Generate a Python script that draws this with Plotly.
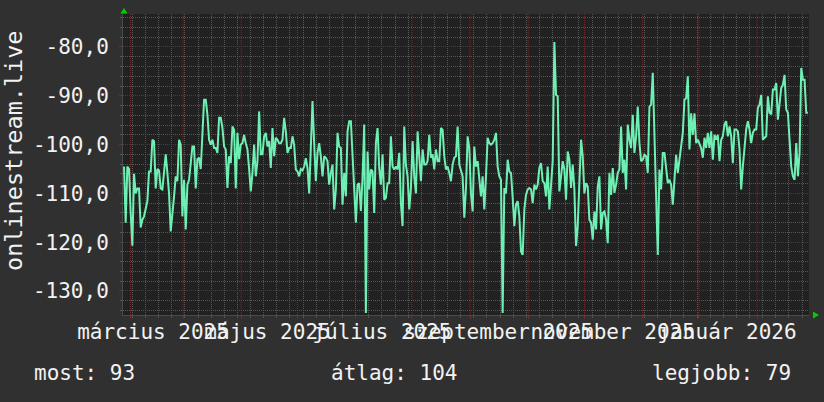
import pandas as pd
import plotly.graph_objects as go

# ---- data ----
seg1 = [-104.5, -116, -104.5, -105, -114, -120.7, -106, -110, -109, -109, -117, -115.4, -114.7, -113.3,
        -111.6, -105.5, -105.5, -99, -99.3, -109, -105, -105.3, -109, -109.2, -105, -102, -105.8, -110,
        -117.8, -114.7, -110.6, -106.5, -107.5, -99, -100, -114.7, -107.2, -117.4, -108.2, -107.2, -104,
        -100.4, -100.4, -109, -103, -102.7, -105, -98.3, -90.8, -90.8, -93.9, -99, -100, -99, -100.7,
        -100.7, -101.7, -94.5, -94.5, -96.6, -100.4, -101, -108.9, -102.4, -103.8, -96.3, -97, -109,
        -97.6, -103]
seg2 = [-100, -99.7, -98, -99.7, -101, -105, -109.6, -105.8, -100, -106.5, -103.4, -93.2, -102, -102,
        -98.3, -97.6, -100.4, -99.3, -104.8, -96.6, -102.4, -98.6, -99, -99.7, -99.7, -99, -94.5, -97.3,
        -101.7, -100.7, -100.7, -98.3, -100, -105.1, -105.5, -106.5, -105, -105.3, -104.5, -102.8,
        -104.8, -110, -100, -91.1, -99.7, -107.5, -101.7, -99.7, -102.4, -106.5, -102.4, -102.7, -103.4,
        -108.2, -105.8, -104.1, -113.3, -109.2, -97.6, -100.4, -100.7, -112.3, -105.8, -110.6, -97.3,
        -95.2, -95.2, -101.4, -108.6, -116]
seg3 = [-108.2, -107.9, -113.6, -106.8, -95.9, -134.5, -101.4, -109.2, -105.1, -105.5, -114, -99.7,
        -96.6, -104.8, -108.2, -102, -111.3, -110.9, -107.9, -107.9, -98.3, -104.5, -105.1, -104.5,
        -105.1, -101.7, -112, -116.7, -96.3, -104.1, -106.5, -113.3, -108.9, -99.3, -106.5, -110, -97.3,
        -103.1, -107.5, -101, -104.1, -104.1, -103.4, -98, -102.7, -102, -105.1, -101, -103.4, -103.4,
        -96.6, -97, -102.4, -105.1, -104.5, -105.8, -107.5, -104.1, -102.7, -102.4, -96.3, -104.1,
        -105.1, -106.5, -115, -108.9, -98.3, -100.7, -110]
seg4 = [-113.7, -100.4, -104.5, -103.4, -106.5, -110.6, -106.5, -113.3, -106.5, -98.6, -99.7, -100,
        -99.7, -99, -97.6, -104.5, -106.5, -107.2, -134.5, -108.9, -110, -103.1, -105.5, -105.8, -110.9,
        -116.7, -112.3, -111.6, -114.7, -121.9, -122.6, -113.3, -110.3, -109.2, -108.9, -109.2, -112,
        -108.2, -109.2, -108.2, -104.8, -103.8, -107.5, -107.9, -110.6, -104.5, -113.3, -107.5, -103.4,
        -79, -89.8, -90.1, -109.6, -106.5, -103.4, -105.1, -111.3, -101.4, -103.1, -108.9, -104.1,
        -109.2, -120.8, -116.7, -105.8, -99, -102.4, -110, -107.9]
seg5 = [-108.6, -115.4, -116, -119.5, -113.7, -117.4, -108.6, -106.5, -117.4, -114, -113.7, -115.4,
        -120.2, -105.8, -110.3, -104.8, -109.9, -108.2, -105.8, -105.1, -96.3, -105.8, -103.1, -109.2,
        -95.9, -99, -100.7, -93.9, -101.7, -98.3, -92.2, -99.7, -103.4, -103.1, -102.1, -102.4, -105.8,
        -92.2, -91.8, -85.3, -100.4, -110.6, -122.6, -105.1, -109.2, -101.7, -101.7, -104.5, -107.9,
        -107.2, -108.2, -112.3, -105.8, -102.1, -105.8, -103.1, -100.4, -97.6, -90.8, -90.5, -86, -101,
        -93.6, -98, -93.6, -99.7, -99, -100, -100.7, -102.7]
seg6 = [-98.6, -100.7, -97.6, -100.7, -97.3, -103.1, -98, -99, -98, -103.4, -99, -98.3, -95.9, -95.2,
        -98.3, -96.3, -98.3, -103.8, -96.9, -96.9, -97.3, -101, -109.2, -104.5, -100.4, -96.9, -95.2,
        -96.9, -99.7, -97.6, -96.9, -96.9, -92.5, -91.8, -89.8, -99, -98.6, -98.3, -90.1, -93.5, -93.8,
        -88.7, -88.7, -87.4, -94.9, -90.8, -88.4, -87.7, -85.7, -92.8, -93.5, -99, -104.5, -106.5,
        -107.2, -99.7, -106.5, -101.7, -84.3, -86.7, -86.7, -93.5, -93.5]
values = seg1 + seg2 + seg3 + seg4 + seg5 + seg6

start_time = "2025-01-28 13:00"
end_time = "2026-01-28 02:00"
x_range = ["2025-01-28 00:00", "2026-01-28 16:00"]

month_starts = pd.date_range("2025-02-01", "2026-01-01", freq="MS")
month_label_map = {
    "2025-03": "március 2025",
    "2025-05": "május 2025",
    "2025-07": "július 2025",
    "2025-09": "szeptember 2025",
    "2025-11": "november 2025",
    "2026-01": "január 2026",
}
y_tick_vals = [-130, -120, -110, -100, -90, -80]
y_tick_text = ["-130,0", "-120,0", "-110,0", "-100,0", "-90,0", "-80,0"]
y_title = "onlinestream.live"
stat_names = ["most", "átlag", "legjobb"]
stat_values = [93, 104, 79]
y_range = [-134.92, -73.24]

dates = pd.date_range(start_time, end_time, periods=len(values))
x_tick_text = [month_label_map.get(d.strftime("%Y-%m"), "") for d in month_starts]

FONT = "DejaVu Sans Mono"
TXT = "#f2f2f2"
RED = "#6a3131"
GREY = "#565656"
DOT = "1px,1px"

fig = go.Figure()
fig.add_trace(go.Scatter(x=dates, y=values, mode="lines",
                         line=dict(color="#6ef0b4", width=2), hoverinfo="skip"))

W, H = 824, 402
L, R, T, B = 123, 15, 14, 87
pw, ph = W - L - R, H - T - B


def px(x):
    return (x - L) / pw


def py(y):
    return (H - B - y) / ph


fig.update_layout(
    width=W, height=H,
    margin=dict(l=L, r=R, t=T, b=B, pad=0, autoexpand=False),
    paper_bgcolor="#303030", plot_bgcolor="#212121",
    font=dict(family=FONT, size=21, color=TXT),
    showlegend=False,
)
fig.update_xaxes(
    type="date", range=x_range, tickmode="array",
    tickvals=month_starts, ticktext=x_tick_text, tickangle=0, automargin=False,
    showgrid=False,
    ticks="outside", ticklen=3, tickcolor=RED,
    ticklabelshift=-30, ticklabelstandoff=-5,
    showline=True, linecolor="#4a4a4a", linewidth=1,
    zeroline=False, tickfont=dict(family=FONT, size=21, color=TXT),
    minor=dict(tickmode="linear", tick0="2025-01-05", dtick=7 * 86400000,
               showgrid=True, gridcolor=GREY, griddash=DOT, gridwidth=1,
               ticks="outside", ticklen=2, tickcolor=GREY),
)
fig.update_yaxes(
    range=y_range, tickmode="array", tickvals=y_tick_vals, ticktext=y_tick_text,
    automargin=False,
    showgrid=True, gridcolor=RED, griddash=DOT, gridwidth=1,
    ticks="outside", ticklen=3, tickcolor=RED, ticklabelstandoff=6,
    showline=True, linecolor="#4a4a4a", linewidth=1, zeroline=False,
    tickfont=dict(family=FONT, size=21, color=TXT),
    minor=dict(tickmode="linear", tick0=0, dtick=2, showgrid=True,
               gridcolor=GREY, griddash=DOT, gridwidth=1,
               ticks="outside", ticklen=2, tickcolor=GREY),
)

# monthly major grid lines (red, dotted) drawn as shapes between grid and trace
for d in month_starts:
    fig.add_shape(type="line", xref="x", yref="paper", x0=d, x1=d, y0=0, y1=1,
                  layer="between", line=dict(color=RED, width=1, dash=DOT))

annotations = [dict(text=y_title, textangle=-90, xref="paper", yref="paper",
                    x=px(14), y=py(151), xanchor="center", yanchor="middle",
                    showarrow=False, font=dict(family=FONT, size=23.5, color=TXT))]
stat_lefts = [32, 329, 650]
for name, val, lx in zip(stat_names, stat_values, stat_lefts):
    annotations.append(dict(text=f"{name}: {val}", xref="paper", yref="paper",
                            x=px(lx), y=py(373), xanchor="left", yanchor="middle",
                            showarrow=False, font=dict(family=FONT, size=21, color=TXT)))
fig.update_layout(annotations=annotations)

green = "#00d000"
fig.add_shape(type="path", xref="paper", yref="paper",
              path=f"M {px(124)},{py(8)} L {px(120.5)},{py(13.5)} L {px(127.5)},{py(13.5)} Z",
              fillcolor=green, line=dict(width=0))
fig.add_shape(type="path", xref="paper", yref="paper",
              path=f"M {px(819)},{py(315)} L {px(813)},{py(311.5)} L {px(813)},{py(318.5)} Z",
              fillcolor=green, line=dict(width=0))

fig.write_html("out.html", config={"displayModeBar": False, "staticPlot": True},
               post_script="document.body.style.margin='0px';document.body.style.padding='0px';")
